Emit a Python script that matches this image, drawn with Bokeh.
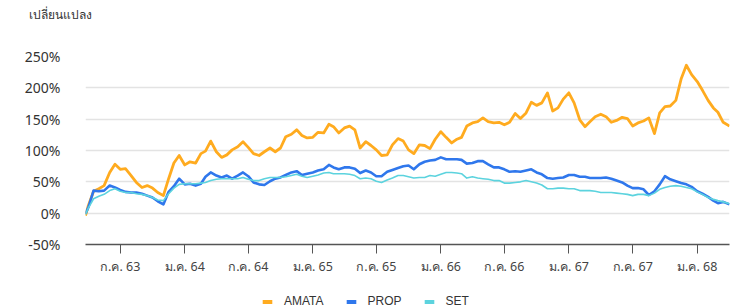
from datetime import datetime
from bokeh.plotting import figure
from bokeh.layouts import column
from bokeh.models import Range1d, FixedTicker, Legend, LegendItem, Title, ColumnDataSource
from bokeh.embed import file_html
from bokeh.resources import INLINE

# ---------------- data ----------------
start_date = "2020-03-24"
end_date = "2025-04-03"
dates = [start_date] + [
    f"{y}-{m:02d}-{d:02d}"
    for y in range(2020, 2026) for m in range(1, 13) for d in (1, 16)
    if "2020-04-01" <= f"{y}-{m:02d}-{d:02d}" <= "2025-03-16"
] + [end_date]

amata = [-4, 12, 35, 39, 44, 65, 78, 70, 71, 60, 49, 41, 44, 40, 33, 28, 55, 80, 92, 77,
         82, 80, 95, 99, 115, 98, 89, 93, 101, 106, 114, 105, 95, 92, 98, 104, 98, 104, 122, 126,
         133, 124, 120, 121, 129, 128, 142, 138, 128, 136, 139, 133, 104, 114, 108, 101, 92, 93, 109, 119,
         115, 101, 95, 109, 108, 103, 118, 130, 121, 112, 118, 121, 139, 144, 146, 152, 146, 144, 145, 141,
         145, 159, 151, 160, 177, 172, 176, 192, 163, 168, 182, 192, 176, 149, 138, 146, 154, 158, 154, 145,
         148, 153, 151, 139, 144, 147, 152, 127, 160, 170, 171, 180, 214, 236, 221, 210, 196, 180, 168, 161,
         145, 139]
prop = [-1, 9, 36, 35, 36, 44, 41, 37, 34, 33, 33, 31, 28, 25, 19, 14, 34, 43, 55, 46,
        47, 44, 47, 58, 65, 60, 57, 60, 55, 60, 65, 59, 49, 46, 45, 51, 55, 57, 61, 65,
        67, 61, 63, 65, 68, 70, 77, 73, 70, 73, 73, 71, 64, 68, 65, 59, 59, 66, 69, 72,
        75, 76, 70, 78, 82, 84, 85, 89, 86, 86, 86, 85, 79, 80, 83, 83, 78, 73, 73, 70,
        66, 67, 66, 68, 70, 65, 62, 56, 55, 56, 57, 61, 61, 58, 58, 56, 56, 56, 57, 55,
        52, 49, 44, 40, 40, 38, 29, 35, 46, 59, 54, 51, 48, 46, 42, 35, 31, 26, 20, 16,
        18, 14]
set_index = [-2, 8, 23, 27, 30, 36, 39, 35, 33, 33, 31, 30, 28, 25, 21, 20, 31, 40, 46, 47,
             47, 47, 48, 49, 52, 54, 55, 55, 55, 55, 57, 54, 52, 52, 55, 57, 57, 57, 58, 60,
             62, 59, 57, 59, 61, 64, 65, 63, 63, 63, 62, 60, 55, 56, 55, 51, 49, 53, 56, 60,
             60, 58, 56, 57, 57, 60, 59, 62, 65, 65, 64, 63, 56, 58, 56, 55, 54, 52, 52, 48,
             48, 49, 50, 52, 50, 48, 45, 39, 39, 40, 40, 39, 39, 36, 36, 36, 35, 33, 33, 33,
             32, 31, 30, 28, 30, 30, 28, 32, 38, 41, 43, 44, 43, 41, 39, 34, 30, 25, 22, 20,
             18, 15]

series_names = ["AMATA", "PROP", "SET"]
series_colors = ["#FFAB1F", "#2F77EC", "#5CD3DE"]

tick_dates = ["2020-07-01", "2021-01-01", "2021-07-01", "2022-01-01", "2022-07-01",
              "2023-01-01", "2023-07-01", "2024-01-01", "2024-07-01", "2025-01-01"]
tick_labels = ["ก.ค. 63", "ม.ค. 64", "ก.ค. 64", "ม.ค. 65", "ก.ค. 65",
               "ม.ค. 66", "ก.ค. 66", "ม.ค. 67", "ก.ค. 67", "ม.ค. 68"]
y_ticks = [-50, 0, 50, 100, 150, 200, 250]
y_title = "เปลี่ยนแปลง"

# ---------------- helpers ----------------
def ms(s):
    return datetime.strptime(s, "%Y-%m-%d").timestamp() * 1000.0

def strip(h):
    f = figure(width=730, height=h, x_range=Range1d(0, 1), y_range=Range1d(0, 1),
               output_backend="svg", toolbar_location=None,
               x_axis_location=None, y_axis_location=None,
               min_border_left=0, min_border_right=0, min_border_top=0, min_border_bottom=0)
    f.outline_line_color = None
    f.xgrid.grid_line_color = None
    f.ygrid.grid_line_color = None
    return f

x_vals = [datetime.strptime(d, "%Y-%m-%d") for d in dates]
FONT = "Noto Sans"
LFONT = "Liberation Sans"

# ---------------- title strip ----------------
tf = strip(30)
tf.title = Title(text=y_title, align="left", offset=-57, text_font=FONT, text_font_size="12px",
                 text_font_style="normal", text_color="#333333", standoff=12, vertical_align="top")

# ---------------- main chart ----------------
p = figure(width=730, height=262, x_axis_type="datetime",
           x_range=Range1d(ms(start_date), ms(end_date)),
           y_range=Range1d(-50, 250),
           output_backend="svg", toolbar_location=None,
           min_border_left=85, min_border_right=1, min_border_top=26, min_border_bottom=48)
p.outline_line_color = None
p.background_fill_color = "white"
p.border_fill_color = "white"

for vals, name, col, lw in zip([amata, prop, set_index], series_names, series_colors, [2.8, 2.6, 1.6]):
    src = ColumnDataSource(dict(x=x_vals, y=vals))
    p.line("x", "y", source=src, line_color=col, line_width=lw, line_join="round")

xa = p.xaxis[0]
xa.ticker = FixedTicker(ticks=[ms(d) for d in tick_dates])
xa.major_label_overrides = {ms(d): lab for d, lab in zip(tick_dates, tick_labels)}
xa.axis_line_color = "#555555"
xa.axis_line_width = 1.3
xa.major_tick_line_color = "#555555"
xa.major_tick_out = 9
xa.major_tick_in = 0
xa.minor_tick_line_color = None
xa.major_label_text_font = FONT
xa.major_label_text_font_size = "12.5px"
xa.major_label_text_color = "#444444"
xa.major_label_standoff = 4

ya = p.yaxis[0]
ya.ticker = FixedTicker(ticks=y_ticks)
ya.major_label_overrides = {v: f"{v}%" for v in y_ticks}
ya.axis_line_color = None
ya.major_tick_line_color = None
ya.minor_tick_line_color = None
ya.major_label_text_font = FONT
ya.major_label_text_font_size = "14px"
ya.major_label_text_color = "#333333"
ya.major_label_standoff = 19

p.xgrid.grid_line_color = None
p.ygrid.ticker = FixedTicker(ticks=y_ticks[1:])
p.ygrid.grid_line_color = "#e3e3e3"
p.ygrid.grid_line_width = 1.5

# ---------------- legend strip ----------------
lf = strip(16)
nan = float("nan")
items = []
for name, col in zip(series_names, series_colors):
    r = lf.quad(left=[nan], right=[nan], top=[nan], bottom=[nan], fill_color=col, line_color=None)
    items.append(LegendItem(label=name, renderers=[r]))
legend = Legend(items=items, orientation="horizontal", location=(176, 0),
                border_line_color=None, background_fill_alpha=0,
                glyph_width=12, glyph_height=5, label_standoff=11, spacing=21,
                label_text_font=LFONT, label_text_font_size="12px", label_text_color="#333333",
                padding=0, margin=0, label_height=8)
lf.add_layout(legend, "center")

layout = column(tf, p, lf, spacing=0)
open("out.html", "w").write(file_html(layout, INLINE))
